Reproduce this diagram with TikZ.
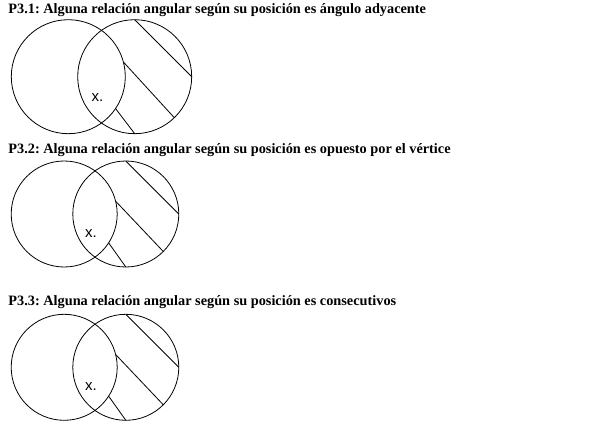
\documentclass[tikz,border=0pt]{standalone}
\usepackage{fontspec}
\setmainfont{Liberation Serif}
\newfontfamily\xfont{Liberation Sans}
\frenchspacing
\tikzset{>=stealth}
\usetikzlibrary{calc}
\tikzset{
  disc/.style={draw, circle, inner sep=0pt, outer sep=0pt, minimum size=#1},
  ttl/.style={anchor=base west, inner sep=0pt, font=\bfseries\fontsize{14.3}{17}\selectfont},
  xlbl/.style={font=\xfont\fontsize{15}{17}\selectfont, inner sep=0pt}
}
\begin{document}
\begin{tikzpicture}[x=1pt, y=-1pt, line width=0.8pt]
    \useasboundingbox (0,0) rectangle (610,430);
    % P3.1
    \node[ttl] (t1) at (8,13.5) {P3.1: Alguna relación angular según su posición es ángulo adyacente};
    \node[disc=114pt] (l1) at (68.3,76.7) {};
    \node[disc=114pt] (r1) at (134.7,76.7) {};
    \draw (r1.90) -- (r1.0);
    \draw (l1.15) -- (r1.-46);
    \draw (l1.-34) -- (r1.-90);
    \node[xlbl] (x1) at (97.5,97.5) {x.};
    % P3.2
    \node[ttl] (t2) at (8,153.3) {P3.2: Alguna relación angular según su posición es opuesto por el vértice};
    \node[disc=106pt] (l2) at (64.2,214) {};
    \node[disc=106pt] (r2) at (125.8,214) {};
    \draw (r2.90) -- (r2.0);
    \draw (l2.14) -- (r2.-45);
    \draw (l2.-33) -- (r2.-90);
    \node[xlbl] (x2) at (91,233.5) {x.};
    % P3.3
    \node[ttl] (t3) at (8,305) {P3.3: Alguna relación angular según su posición es consecutivos};
    \node[disc=106pt] (l3) at (64.2,367.3) {};
    \node[disc=106pt] (r3) at (125.8,367.3) {};
    \draw (r3.90) -- (r3.0);
    \draw (l3.14) -- (r3.-45);
    \draw (l3.-33) -- (r3.-90);
    \node[xlbl] (x3) at (91,386.5) {x.};
\end{tikzpicture}
\end{document}
